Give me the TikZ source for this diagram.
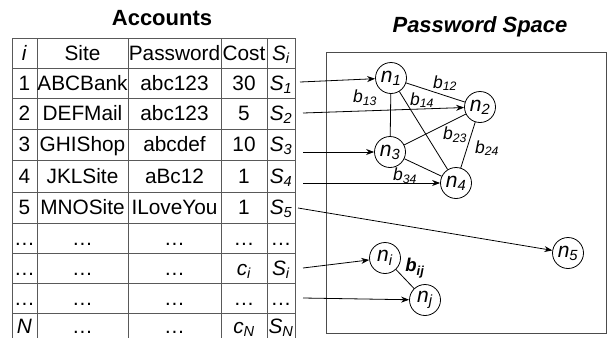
\documentclass[tikz,border=0pt]{standalone}
\usepackage{fontspec}
\setmainfont{Liberation Sans}
\usetikzlibrary{arrows.meta}
\newcommand{\sbs}[2]{\textit{#1}\textsubscript{\textit{#2}}}

\begin{document}
\begin{tikzpicture}[x=1pt, y=-1pt, >={Stealth[length=8pt,width=6pt]},
  cell/.style={anchor=base, inner sep=0pt, font=\fontsize{20.8}{21}\selectfont},
  pnode/.style={draw, circle, minimum size=31pt, inner sep=0pt, line width=0.8pt, font=\fontsize{21}{21}\selectfont},
  blabel/.style={inner sep=0pt, font=\fontsize{17.5}{18}\selectfont},
  rule/.style={black!65, line width=0.8pt}]
  \useasboundingbox (0,0) rectangle (609,338);

  % ===== Accounts table =====
  \node[font=\bfseries\fontsize{22}{22}\selectfont] (acctitle) at (162,18) {Accounts};
  % Rules
  \foreach \y in {38,68,98,129,160,192,223,253,283,313}
    \draw[rule] (12,\y) -- (295,\y);
  \foreach \x in {12,37,128,221,267,295}
    \draw[rule] (\x,38) -- (\x,338);

  % Cells (baselines)
  \foreach \r/\y/\idx/\site/\pw/\cost/\sv in {
      0/60/\textit{i}/Site/Password/Cost/\sbs{S}{i},
      1/90/1/ABCBank/abc123/30/\sbs{S}{1},
      2/120/2/DEFMail/abc123/5/\sbs{S}{2},
      3/151/3/GHIShop/abcdef/10/\sbs{S}{3},
      4/183/4/JKLSite/aBc12/1/\sbs{S}{4},
      5/214/5/MNOSite/ILoveYou/1/\sbs{S}{5},
      6/245/\dots/\dots/\dots/\dots/\dots,
      7/275/\dots/\dots/\dots/\sbs{c}{i}/\sbs{S}{i},
      8/305/\dots/\dots/\dots/\dots/\dots,
      9/333/\textit{N}/\dots/\dots/\sbs{c}{N}/\sbs{S}{N}}{
    \node[cell] (idx\r) at (24.5,\y) {\idx};
    \node[cell] (site\r) at (82.5,\y) {\site};
    \node[cell] (pw\r) at (174.5,\y) {\pw};
    \node[cell] (cost\r) at (244,\y) {\cost};
    \node[cell] (sv\r) at (281,\y) {\sv};
  }

  % ===== Password Space =====
  \node[font=\bfseries\itshape\fontsize{22}{22}\selectfont] (pstitle) at (480,27) {Password Space};
  \draw[black!70, line width=0.9pt] (326,52) rectangle (606,333);

  % Password nodes
  \node[pnode] (n1) at (391,78) {\sbs{n}{1}};
  \node[pnode] (n2) at (480,107) {\sbs{n}{2}};
  \node[pnode] (n3) at (390,152) {\sbs{n}{3}};
  \node[pnode] (n4) at (456,183) {\sbs{n}{4}};
  \node[pnode] (n5) at (568,253) {\sbs{n}{5}};
  \node[pnode] (ni) at (385,258) {\sbs{n}{i}};
  \node[pnode] (nj) at (425,300) {\sbs{n}{j}};

  % Similarity edges
  \draw[line width=0.8pt] (n1) -- (n2);
  \draw[line width=0.8pt] (n1) -- (n3);
  \draw[line width=0.8pt] (n1) -- (n4);
  \draw[line width=0.8pt] (n2) -- (n3);
  \draw[line width=0.8pt] (n2) -- (n4);
  \draw[line width=0.8pt] (n3) -- (n4);
  \draw[line width=0.8pt] (ni) -- (nj);

  \node[blabel] (b12) at (445,83) {\sbs{b}{12}};
  \node[blabel] (b13) at (365,98) {\sbs{b}{13}};
  \node[blabel] (b14) at (422,100) {\sbs{b}{14}};
  \node[blabel] (b23) at (455,135) {\sbs{b}{23}};
  \node[blabel] (b24) at (487,148) {\sbs{b}{24}};
  \node[blabel] (b34) at (405,176) {\sbs{b}{34}};
  \node[blabel, font=\bfseries\fontsize{18.5}{19}\selectfont] (bij) at (415,268) {\sbs{b}{ij}};

  % Mapping arrows
  \coordinate (a1) at (300,82);
  \coordinate (a2) at (303,113);
  \coordinate (a3) at (303,152);
  \coordinate (a4) at (303,183);
  \coordinate (a5) at (298,208);
  \coordinate (ai) at (303,268);
  \coordinate (ad) at (303,298);
  \draw[->, line width=0.8pt] (a1) -- (n1);
  \draw[->, line width=0.8pt] (a2) -- (n2);
  \draw[->, line width=0.8pt] (a3) -- (n3);
  \draw[->, line width=0.8pt] (a4) -- (n4);
  \draw[->, line width=0.8pt] (a5) -- (n5);
  \draw[->, line width=0.8pt] (ai) -- (ni);
  \draw[->, line width=0.8pt] (ad) -- (nj);
\end{tikzpicture}
\end{document}
